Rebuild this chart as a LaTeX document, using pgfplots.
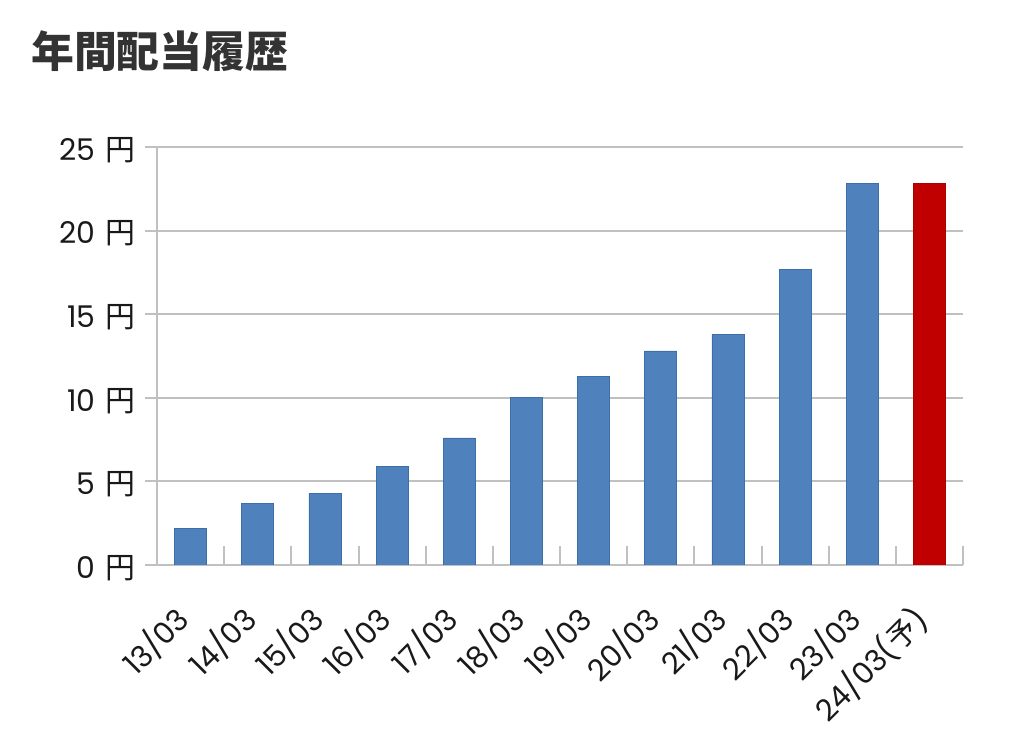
\documentclass[border=0pt]{standalone}
\usepackage{fontspec}
\setmainfont{Poppins}
\newfontfamily\cjk{Noto Sans CJK JP}
\usepackage{pgfplots}
\pgfplotsset{compat=1.18}
\definecolor{barblue}{HTML}{4F81BD}
\definecolor{bluedge}{HTML}{3C6EAA}
\definecolor{barred}{HTML}{C00000}
\definecolor{gridgray}{HTML}{C0C0C0}
\definecolor{titlegray}{HTML}{333333}
\newcommand{\yen}{\hspace{0.08em}{\cjk 円}}
\begin{document}
\begin{tikzpicture}
\path[use as bounding box] (0bp,0bp) rectangle (1024bp,737bp);
\node[anchor=west, inner sep=0pt, text=titlegray,
      font=\fontsize{43}{48}\selectfont\cjk\bfseries] at (31bp,686bp) {年間配当履歴};
\begin{axis}[
  at={(157bp,172bp)}, anchor=south west,
  scale only axis, width=806bp, height=418bp,
  xmin=-0.5, xmax=11.5, ymin=0, ymax=25,
  axis x line*=bottom, axis y line*=left,
  axis line style={gridgray, line width=2.5bp},
  ymajorgrids, grid style={gridgray, line width=2bp},
  ytick={0,5,...,25},
  yticklabels={0 \yen,5 \yen,10 \yen,15 \yen,20 \yen,25 \yen},
  xtick={0,...,11},
  xticklabels={13/03,14/03,15/03,16/03,17/03,18/03,19/03,20/03,21/03,22/03,23/03,24/03({\cjk 予})},
  tick align=outside, major tick length=12bp,
  ytick style={gridgray, line width=2bp},
  xtick style={draw=none},
  extra x ticks={0.5,1.5,...,11.5}, extra x tick labels={},
  extra x tick style={major tick length=19bp, tick align=inside,
    xtick style={draw=gridgray, line width=2bp}},
  tick label style={font=\fontsize{30}{34}\selectfont, text=black!90},
  yticklabel style={inner sep=0pt, xshift=-9bp, yshift=-3bp},
  xticklabel style={rotate=45, anchor=north east, inner sep=0pt, xshift=-31bp, yshift=-4bp},
]
\addplot[ybar, bar shift=0pt, bar width=32bp, fill=barblue, draw=bluedge, line width=0.8bp]
  coordinates {(0,2.2) (1,3.7) (2,4.3) (3,5.9) (4,7.6) (5,10.0) (6,11.3) (7,12.8) (8,13.8) (9,17.7) (10,22.8)};
\addplot[ybar, bar shift=0pt, bar width=32bp, fill=barred, draw=barred!90!black, line width=0.8bp]
  coordinates {(11,22.8)};
\end{axis}
\end{tikzpicture}
\end{document}
